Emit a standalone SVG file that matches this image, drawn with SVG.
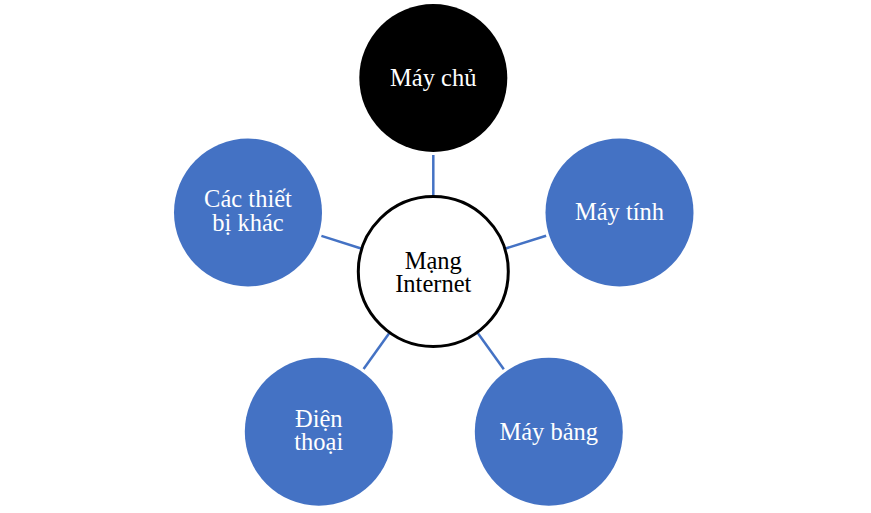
<svg xmlns="http://www.w3.org/2000/svg" width="871" height="513" viewBox="0 0 871 513">
<style>
.node{fill:#4472C4;}
.label{font-family:"Liberation Serif","Times New Roman",serif;font-size:24.5px;fill:#FFFFFF;text-anchor:middle;}
.clabel{font-family:"Liberation Serif","Times New Roman",serif;font-size:24.5px;fill:#000000;text-anchor:middle;}
.conn{stroke:#4472C4;stroke-width:2.5;fill:none;}
</style>
<rect width="871" height="513" fill="#FFFFFF"/>
<g id="connectors">
<line class="conn" x1="433.3" y1="155" x2="433.3" y2="197"/>
<line class="conn" x1="504.8" y1="248.8" x2="546.1" y2="235.8"/>
<line class="conn" x1="361.9" y1="248.8" x2="321.4" y2="235.9"/>
<line class="conn" x1="477.2" y1="332.3" x2="503.8" y2="369.2"/>
<line class="conn" x1="389.7" y1="332.5" x2="363.6" y2="369.1"/>
</g>
<g id="may-chu">
<circle cx="433.3" cy="78" r="74" fill="#000000"/>
<text class="label" x="433.3" y="86">Máy chủ</text>
</g>
<g id="may-tinh">
<circle class="node" cx="619.5" cy="212.5" r="74"/>
<text class="label" x="619.5" y="220">Máy tính</text>
</g>
<g id="cac-thiet-bi-khac">
<circle class="node" cx="248" cy="212.5" r="74"/>
<text class="label" x="248" y="207.3">Các thiết</text>
<text class="label" x="248" y="230.5">bị khác</text>
</g>
<g id="may-bang">
<circle class="node" cx="548.8" cy="431.7" r="74"/>
<text class="label" x="548.8" y="440">Máy bảng</text>
</g>
<g id="dien-thoai">
<circle class="node" cx="318.8" cy="431.7" r="74"/>
<text class="label" x="318.8" y="426.7">Điện</text>
<text class="label" x="318.8" y="450">thoại</text>
</g>
<g id="mang-internet">
<circle cx="433.3" cy="271.5" r="75" fill="#FFFFFF" stroke="#000000" stroke-width="3"/>
<text class="clabel" x="433.3" y="269.3">Mạng</text>
<text class="clabel" x="433.3" y="291.7">Internet</text>
</g>
</svg>
